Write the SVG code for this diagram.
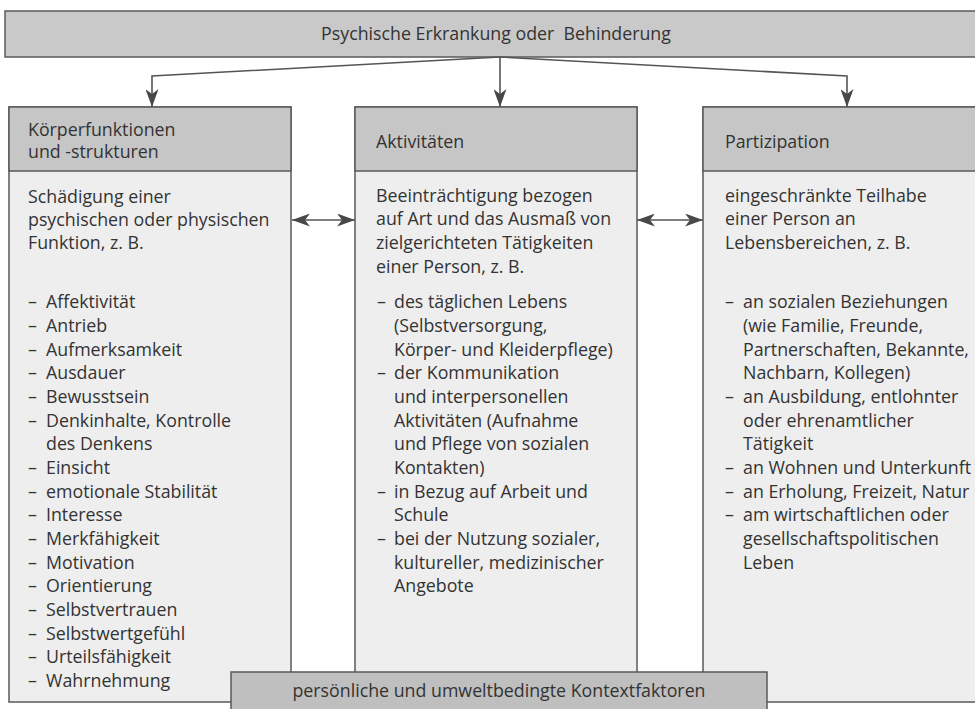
<svg xmlns="http://www.w3.org/2000/svg" width="975" height="709" viewBox="0 0 975 709">
<style>
  text { font-family: "Open Sans", "Noto Sans", "Liberation Sans", sans-serif; font-size: 17.8px; fill: #333333; }
  .title { fill: #c9c9c9; stroke: #5a5a5a; stroke-width: 1.5; }
  .head { fill: #c6c6c6; stroke: #5a5a5a; stroke-width: 1.5; }
  .body { fill: #eeeeee; stroke: #5a5a5a; stroke-width: 1.5; }
  .ctx { fill: #bfbfbf; stroke: #5a5a5a; stroke-width: 1.5; }
  .conn { fill: none; stroke: #555555; stroke-width: 1.6; }
</style>
<defs>
  <marker id="ah" viewBox="0 0 18 13" refX="18" refY="6.5" markerWidth="18" markerHeight="13" markerUnits="userSpaceOnUse" orient="auto-start-reverse">
    <path d="M0,0 L18,6.5 L0,13 L5,6.5 z" fill="#484848"/>
  </marker>
</defs>
<rect width="975" height="709" fill="#ffffff"/>

<g id="node-top">
  <rect class="title" x="5" y="11" width="980" height="46"/>
  <text x="496" y="40" text-anchor="middle">Psychische Erkrankung oder&#160; Behinderung</text>
</g>

<g id="node-koerper">
  <rect class="body" x="9" y="107" width="282" height="595"/>
  <rect class="head" x="9" y="107" width="282" height="64"/>
  <text x="28" y="136">Körperfunktionen</text>
  <text x="28" y="158">und -strukturen</text>
  <text x="28" y="203">Schädigung einer</text>
  <text x="28" y="226">psychischen oder physischen</text>
  <text x="28" y="249">Funktion, z. B.</text>
  <g>
    <text x="28" y="308">–</text><text x="46" y="308">Affektivität</text>
    <text x="28" y="332">–</text><text x="46" y="332">Antrieb</text>
    <text x="28" y="356">–</text><text x="46" y="356">Aufmerksamkeit</text>
    <text x="28" y="379">–</text><text x="46" y="379">Ausdauer</text>
    <text x="28" y="403">–</text><text x="46" y="403">Bewusstsein</text>
    <text x="28" y="427">–</text><text x="46" y="427">Denkinhalte, Kontrolle</text>
    <text x="46" y="450">des Denkens</text>
    <text x="28" y="474">–</text><text x="46" y="474">Einsicht</text>
    <text x="28" y="498">–</text><text x="46" y="498">emotionale Stabilität</text>
    <text x="28" y="521">–</text><text x="46" y="521">Interesse</text>
    <text x="28" y="545">–</text><text x="46" y="545">Merkfähigkeit</text>
    <text x="28" y="569">–</text><text x="46" y="569">Motivation</text>
    <text x="28" y="592">–</text><text x="46" y="592">Orientierung</text>
    <text x="28" y="616">–</text><text x="46" y="616">Selbstvertrauen</text>
    <text x="28" y="640">–</text><text x="46" y="640">Selbstwertgefühl</text>
    <text x="28" y="663">–</text><text x="46" y="663">Urteilsfähigkeit</text>
    <text x="28" y="687">–</text><text x="46" y="687">Wahrnehmung</text>
  </g>
</g>

<g id="node-aktivitaeten">
  <rect class="body" x="355" y="107" width="282" height="595"/>
  <rect class="head" x="355" y="107" width="282" height="64"/>
  <text x="376" y="148">Aktivitäten</text>
  <text x="376" y="202">Beeinträchtigung bezogen</text>
  <text x="376" y="225">auf Art und das Ausmaß von</text>
  <text x="376" y="249">zielgerichteten Tätigkeiten</text>
  <text x="376" y="273">einer Person, z. B.</text>
  <text x="377" y="308">–</text><text x="394" y="308">des täglichen Lebens</text>
  <text x="394" y="332">(Selbstversorgung,</text>
  <text x="394" y="356">Körper- und Kleiderpflege)</text>
  <text x="377" y="379">–</text><text x="394" y="379">der Kommunikation</text>
  <text x="394" y="403">und interpersonellen</text>
  <text x="394" y="427">Aktivitäten (Aufnahme</text>
  <text x="394" y="450">und Pflege von sozialen</text>
  <text x="394" y="474">Kontakten)</text>
  <text x="377" y="498">–</text><text x="394" y="498">in Bezug auf Arbeit und</text>
  <text x="394" y="521">Schule</text>
  <text x="377" y="545">–</text><text x="394" y="545">bei der Nutzung sozialer,</text>
  <text x="394" y="569">kultureller, medizinischer</text>
  <text x="394" y="592">Angebote</text>
</g>

<g id="node-partizipation">
  <rect class="body" x="703" y="107" width="290" height="595"/>
  <rect class="head" x="703" y="107" width="290" height="64"/>
  <text x="725" y="148">Partizipation</text>
  <text x="725" y="202">eingeschränkte Teilhabe</text>
  <text x="725" y="225">einer Person an</text>
  <text x="725" y="249">Lebensbereichen, z. B.</text>
  <text x="725" y="308">–</text><text x="743" y="308">an sozialen Beziehungen</text>
  <text x="743" y="332">(wie Familie, Freunde,</text>
  <text x="743" y="356">Partnerschaften, Bekannte,</text>
  <text x="743" y="379">Nachbarn, Kollegen)</text>
  <text x="725" y="403">–</text><text x="743" y="403">an Ausbildung, entlohnter</text>
  <text x="743" y="427">oder ehrenamtlicher</text>
  <text x="743" y="450">Tätigkeit</text>
  <text x="725" y="474">–</text><text x="743" y="474">an Wohnen und Unterkunft</text>
  <text x="725" y="498">–</text><text x="743" y="498">an Erholung, Freizeit, Natur</text>
  <text x="725" y="521">–</text><text x="743" y="521">am wirtschaftlichen oder</text>
  <text x="743" y="545">gesellschaftspolitischen</text>
  <text x="743" y="569">Leben</text>
</g>

<g id="node-kontext">
  <rect class="ctx" x="231" y="672" width="536" height="45"/>
  <text x="499" y="697" text-anchor="middle">persönliche und umweltbedingte Kontextfaktoren</text>
</g>

<g id="connectors">
  <path class="conn" d="M500,57 V107" marker-end="url(#ah)"/>
  <path class="conn" d="M500,57 L152,76 V107" marker-end="url(#ah)"/>
  <path class="conn" d="M500,57 L847,76 V107" marker-end="url(#ah)"/>
  <path class="conn" d="M292,220 H355" marker-start="url(#ah)" marker-end="url(#ah)"/>
  <path class="conn" d="M637,220 H703" marker-start="url(#ah)" marker-end="url(#ah)"/>
</g>
</svg>
